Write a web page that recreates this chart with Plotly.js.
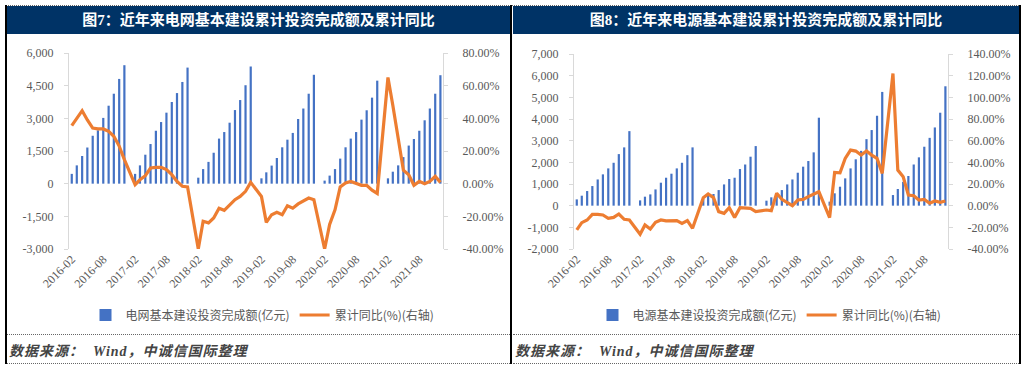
<!DOCTYPE html>
<html>
<head>
<meta charset="utf-8">
<script src="https://cdn.plot.ly/plotly-3.0.1.min.js"></script>
<style>
  html, body { margin:0; padding:0; background:#fff; }
  body { width:1024px; height:368px; position:relative; overflow:hidden; }
  .vline { position:absolute; background:#000; width:2px; top:5px; height:359px; }
  .bar { position:absolute; top:6px; height:28px; background:#003366; color:#fff;
         font-family:"Liberation Serif","Noto Sans CJK SC",serif; font-weight:bold; font-size:15px;
         line-height:28px; text-align:center; white-space:nowrap; }
  .dot { position:absolute; height:0; border-top:1px dotted #666; }
  .src { position:absolute; top:340px; font-family:"Liberation Serif","Noto Sans CJK SC",serif;
         font-style:italic; font-weight:bold; font-size:14px; color:#444; white-space:nowrap; letter-spacing:1px; }
  .chart { position:absolute; top:34px; height:300px; }
</style>
</head>
<body>
<div class="dot" style="left:5px; top:5px; width:1016px;"></div>
<div class="bar" style="left:7px; width:503px;">图7：近年来电网基本建设累计投资完成额及累计同比</div>
<div class="bar" style="left:513px; width:506px;">图8：近年来电源基本建设累计投资完成额及累计同比</div>
<div id="c1" class="chart" style="left:7px; width:502px;"></div>
<div id="c2" class="chart" style="left:513px; width:505px;"></div>
<div class="dot" style="left:7px; top:334px; width:503px;"></div>
<div class="dot" style="left:513px; top:334px; width:506px;"></div>
<div class="dot" style="left:7px; top:363px; width:503px;"></div>
<div class="dot" style="left:513px; top:363px; width:506px;"></div>
<div class="src" style="left:9px;">数据来源：&nbsp;&nbsp;Wind，中诚信国际整理</div>
<div class="src" style="left:515px;">数据来源：&nbsp;&nbsp;Wind，中诚信国际整理</div>
<div class="vline" style="left:5px;"></div>
<div class="vline" style="left:510px;"></div>
<div class="vline" style="left:1019px;"></div>

<script>
// ---- categories (months; January merged into February in the source statistics) ----
const months = [
  "2016-02","2016-03","2016-04","2016-05","2016-06","2016-07","2016-08","2016-09","2016-10","2016-11","2016-12",
  "2017-02","2017-03","2017-04","2017-05","2017-06","2017-07","2017-08","2017-09","2017-10","2017-11","2017-12",
  "2018-02","2018-03","2018-04","2018-05","2018-06","2018-07","2018-08","2018-09","2018-10","2018-11","2018-12",
  "2019-02","2019-03","2019-04","2019-05","2019-06","2019-07","2019-08","2019-09","2019-10","2019-11","2019-12",
  "2020-02","2020-03","2020-04","2020-05","2020-06","2020-07","2020-08","2020-09","2020-10","2020-11","2020-12",
  "2021-02","2021-03","2021-04","2021-05","2021-06","2021-07","2021-08","2021-09","2021-10","2021-11","2021-12"
];

// ---- Figure 7: grid investment (亿元) and cumulative YoY (%) ----
const gridInvest = [
  450, 840, 1270, 1660, 2200, 2450, 3020, 3580, 4130, 4810, 5440,
  450, 840, 1330, 1820, 2430, 2830, 3260, 3750, 4160, 4670, 5330,
  275, 670, 1000, 1420, 2070, 2370, 2800, 3380, 3840, 4520, 5380,
  245, 520, 830, 1180, 1670, 2020, 2330, 2970, 3450, 4130, 5000,
  140, 370, 670, 1150, 1670, 2070, 2370, 2940, 3370, 3950, 4730,
  245, 550, 840, 1220, 1750, 2050, 2430, 2910, 3450, 4130, 4980
];
const gridYoY = [
  35.5, 40, 44.7, 39, 34, 33.5, 33.5, 32, 29, 23, 14.7,
  -0.6, 2.4, 4.9, 9.6, 10, 10, 8.6, 5.5, 1.4, -1.6, -2,
  -40, -23, -24, -21, -15, -16.3, -13.3, -9.8, -7.8, -4.7, 0.8,
  -7.8, -23.7, -19, -17.5, -19, -13.5, -15, -12.4, -10.4, -8.8, -9.8,
  -40, -25, -16, -2, 0.4, 1.4, 0.4, -1, -1, -4, -6,
  65, 48, 29, 8.2, 5.5, -1, 1.4, 0, 1.4, 4.5, 0.8
];

// ---- Figure 8: power-source investment (亿元) and cumulative YoY (%) ----
const powerInvest = [
  290, 460, 675, 905, 1210, 1445, 1720, 1980, 2380, 2690, 3440,
  245, 415, 520, 750, 1060, 1290, 1475, 1720, 1980, 2330, 2690,
  300, 460, 540, 720, 980, 1230, 1290, 1690, 1900, 2260, 2750,
  230, 385, 570, 720, 980, 1210, 1520, 1800, 2060, 2460, 4060,
  185, 570, 875, 1260, 1720, 2140, 2530, 3070, 3490, 4150, 5250,
  490, 770, 1100, 1370, 1900, 2230, 2720, 3130, 3610, 4290, 5510
];
const powerYoY = [
  -22.4, -15.7, -13.2, -8, -8, -8.6, -11.7, -10.8, -7.7, -12.6, -13.2,
  -26.4, -17.8, -21.5, -15.4, -13.2, -14.1, -14.1, -13.8, -16.3, -13.8, -20.9,
  7.4, 10.8, 7.4, -5.5, -7.1, -1.8, -10.8, -1.8, -2.5, -2.5, -5.5,
  -4, -4.6, 11.4, 5.8, 3.1, 0, 5.2, 5.8, 8.3, 10.4, 12.9,
  -11, 30.7, 30.4, 43.6, 51.3, 50.4, 46.7, 50.4, 46.7, 43.6, 29.8,
  122, 32.9, 26.7, 9.8, 9.2, 5.2, 5.8, 2.2, 4.3, 3.1, 4.3
];

// ---- axis tick labels ----
const grid_leftTicks = [-3000, -1500, 0, 1500, 3000, 4500, 6000];
const grid_leftText = ["-3,000", "-1,500", "0", "1,500", "3,000", "4,500", "6,000"];
const grid_rightTicks = [-40, -20, 0, 20, 40, 60, 80];
const grid_rightText = ["-40.00%", "-20.00%", "0.00%", "20.00%", "40.00%", "60.00%", "80.00%"];
const power_leftTicks = [-2000, -1000, 0, 1000, 2000, 3000, 4000, 5000, 6000, 7000];
const power_leftText = ["-2,000", "-1,000", "0", "1,000", "2,000", "3,000", "4,000", "5,000", "6,000", "7,000"];
const power_rightTicks = [-40, -20, 0, 20, 40, 60, 80, 100, 120, 140];
const power_rightText = ["-40.00%", "-20.00%", "0.00%", "20.00%", "40.00%", "60.00%", "80.00%", "100.00%", "120.00%", "140.00%"];

const barName1 = "电网基本建设投资完成额(亿元)";
const barName2 = "电源基本建设投资完成额(亿元)";
const lineName = "累计同比(%)(右轴)";

const BLUE = "#4472C4", ORANGE = "#ED7D31", AXIS = "#D9D9D9", TXT = "#595959";
const tickFont = {family: "Liberation Serif, serif", size: 12, color: TXT};
const xRange = ["2016-01-16", "2021-12-16"];

function makeChart(div, barName, barVals, lineVals, lRange, lTicks, lText, rRange, rTicks, rText, margin, legX) {
  const zeroFrac = (0 - lRange[0]) / (lRange[1] - lRange[0]);
  const traces = [
    {type: "bar", x: months, y: barVals, name: barName, marker: {color: BLUE},
     width: months.map(() => 1.1e9), xaxis: "x", yaxis: "y"},
    {type: "scatter", mode: "lines", x: months, y: lineVals, name: lineName,
     line: {color: ORANGE, width: 3.2}, xaxis: "x", yaxis: "y2"}
  ];
  const layout = {
    width: parseInt(document.getElementById(div).style.width), height: 300,
    margin: margin,
    paper_bgcolor: "#fff", plot_bgcolor: "#fff",
    showlegend: true,
    legend: {orientation: "h", xref: "container", x: legX, xanchor: "center",
             yref: "container", y: 19 / 300, yanchor: "middle",
             font: {family: "Noto Sans CJK SC, sans-serif", size: 12, color: TXT},
             itemwidth: 30, traceorder: "normal", bgcolor: "rgba(0,0,0,0)"},
    xaxis: {type: "date", range: xRange, tickformat: "%Y-%m", dtick: "M6", tick0: "2016-02-01",
            tickangle: -45, showgrid: false, zeroline: false, showline: false, ticks: "",
            tickfont: tickFont, fixedrange: true, automargin: false},
    xaxis2: {type: "date", range: xRange, overlaying: "x", anchor: "free", position: zeroFrac,
             side: "bottom", showticklabels: false, ticks: "outside", ticklen: 4, tickcolor: AXIS,
             showline: true, linecolor: AXIS, linewidth: 1, dtick: "M6", tick0: "2016-01-16",
             showgrid: false, zeroline: false, automargin: false},
    yaxis: {range: lRange, tickvals: lTicks, ticktext: lText, showline: true, linecolor: AXIS,
            ticks: "outside", ticklen: 4, tickcolor: AXIS, showgrid: false, zeroline: false,
            tickfont: tickFont, ticklabelstandoff: 8, automargin: false},
    yaxis2: {range: rRange, tickvals: rTicks, ticktext: rText, overlaying: "y", side: "right",
             showline: true, linecolor: AXIS, ticks: "outside", ticklen: 4, tickcolor: AXIS,
             showgrid: false, zeroline: false, tickfont: tickFont, ticklabelstandoff: 12, automargin: false}
  };
  Plotly.newPlot(div, traces, layout, {displayModeBar: false, staticPlot: true});
}

makeChart("c1", barName1, gridInvest, gridYoY, [-3000, 6000], grid_leftTicks, grid_leftText,
          [-40, 80], grid_rightTicks, grid_rightText, {l: 62, r: 66, t: 19, b: 85}, 255.5 / 502);
makeChart("c2", barName2, powerInvest, powerYoY, [-2000, 7000], power_leftTicks, power_leftText,
          [-40, 140], power_rightTicks, power_rightText, {l: 61, r: 70, t: 20, b: 85}, 256.5 / 505);
</script>
</body>
</html>
